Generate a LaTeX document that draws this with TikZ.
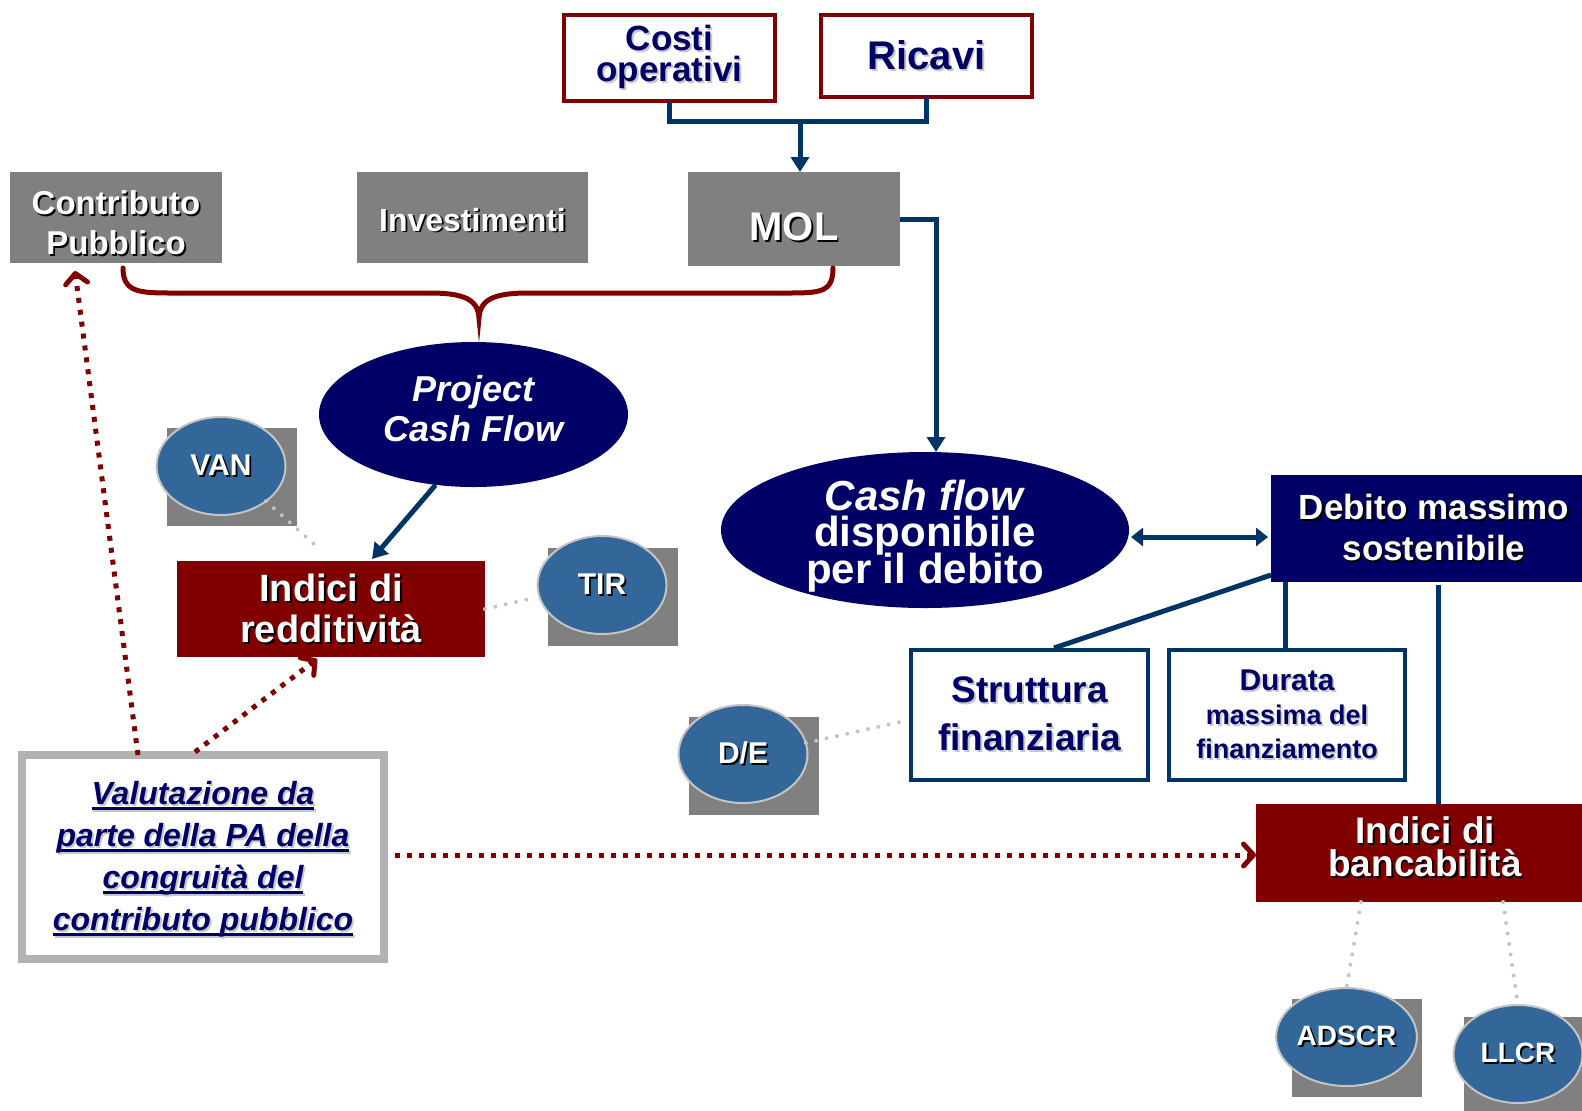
\documentclass[tikz,border=0pt]{standalone}
\usepackage{fontspec}
\setmainfont{Liberation Sans}
\usetikzlibrary{shapes.geometric,arrows.meta,calc}
\definecolor{dred}{RGB}{128,0,0}
\definecolor{navy}{RGB}{0,0,102}
\definecolor{bluec}{RGB}{0,51,102}
\definecolor{gbox}{RGB}{128,128,128}
\definecolor{sblue}{RGB}{51,102,153}
\definecolor{lgray}{RGB}{196,196,196}
\definecolor{vgray}{RGB}{178,178,178}
\newcommand{\fsz}[2]{\fontsize{#1}{#2}\selectfont\lineskiplimit=-100pt\relax}
\newcommand{\txs}[2][black]{\leavevmode\rlap{\kern0.9pt\raisebox{-0.9pt}{\color{#1}#2}}#2}
\newcommand{\txl}[1]{\txs[black!22]{#1}}
\newcommand{\ulin}[1]{\setbox0\hbox{#1}\rlap{\rule[-2.8pt]{\wd0}{1.3pt}}\box0}
\begin{document}
\begin{tikzpicture}[x=0.5pt,y=-0.5pt,
  every node/.style={inner sep=0pt,outer sep=0pt,align=center},
  bline/.style={draw=bluec,line width=2.5pt},
  barrow/.style={bline,-{Triangle[length=7.5pt,width=9pt]}},
  rdot/.style={draw=dred,line width=2.5pt,dash pattern=on 2.5pt off 3.5pt,-{Straight Barb[length=5pt,width=11pt,round]}},
  gdot/.style={draw=lgray,line width=2pt,dash pattern=on 0pt off 5.3pt,line cap=round},
  gshad/.style={rectangle,fill=gbox,minimum width=65pt,minimum height=49pt},
  sell/.style={ellipse,fill=sblue,draw=lgray,line width=1pt,text=white,minimum width=64.5pt,minimum height=49pt,font=\fsz{15}{18}\bfseries},
  graybox/.style={rectangle,fill=gbox,text=white},
  whitebox/.style={rectangle,fill=white,line width=2pt,text=navy},
  bigell/.style={ellipse,fill=navy,text=white}]
\useasboundingbox (0,0) rectangle (1582,1110);

% top boxes
\node[whitebox,draw=dred,minimum width=105.5pt,minimum height=43pt,font=\fsz{17.5}{15.5}\bfseries] (costi) at (669.5,58) {\txl{Costi}\\\txl{operativi}};
\node[whitebox,draw=dred,minimum width=105.5pt,minimum height=41pt,font=\fsz{20}{24}\bfseries] (ricavi) at (926.5,56) {\txl{Ricavi}};
\node[graybox,minimum width=106pt,minimum height=47pt,font=\fsz{20}{24}\bfseries] (mol) at (794,219) {\raisebox{-4.5pt}[\height][\depth]{\txs{MOL}}};
\node[graybox,minimum width=106pt,minimum height=45.5pt,
  label={[font=\fsz{16.5}{20}\bfseries,text=white,yshift=-3pt]center:{\txs{Contributo}\\\txs{Pubblico}}}] (contrib) at (116,217.5) {};
\node[graybox,minimum width=115.5pt,minimum height=45.5pt,font=\fsz{16}{20}\bfseries] (invest) at (472.5,217.5) {\raisebox{-1.5pt}[\height][\depth]{\txs{Investimenti}}};

% left part
\node[bigell,minimum width=154.5pt,minimum height=72.5pt,
  label={[font=\fsz{18}{20}\bfseries\itshape,text=white,yshift=3pt]center:{Project\\Cash Flow}}] (pcf) at (473.5,414.5) {};
\node[graybox,fill=dred,minimum width=154pt,minimum height=48pt,font=\fsz{19}{20.5}\bfseries] (redd) at (331,609) {\txs{Indici di}\\\txs{redditività}};
\node[gshad] (vanS) at (231.5,477) {};
\node[sell] (vanE) at (221,466) {\txs{VAN}};
\node[gshad] (tirS) at (612.5,596.5) {};
\node[sell] (tirE) at (602,585) {\txs{TIR}};

% right part
\node[bigell,minimum width=204pt,minimum height=78pt,
  label={[font=\fsz{21}{18.3}\bfseries,text=white,yshift=-3pt]center:{\textit{Cash flow}\\disponibile\\per il debito}}] (cfd) at (925,530) {};
\node[rectangle,fill=navy,text=white,minimum width=163pt,minimum height=53.5pt,font=\fsz{17.5}{20.5}\bfseries] (debito) at (1434,528.5) {\txs{Debito massimo}\\\txs{sostenibile}};
\node[whitebox,draw=bluec,minimum width=118.5pt,minimum height=65pt,font=\fsz{18.5}{24}\bfseries] (strutt) at (1029.5,715) {\txl{Struttura}\\\txl{finanziaria}};
\node[whitebox,draw=bluec,minimum width=118pt,minimum height=65pt,font=\fsz{13.5}{17}\bfseries] (durata) at (1287,715) {{\fsz{15}{17}\txl{Durata}}\\\txl{massima del}\\\txl{finanziamento}};
\node[gshad] (deS) at (754,766) {};
\node[sell] (deE) at (743,754) {\txs{D/E}};

% bottom
\node[rectangle,fill=white,draw=vgray,line width=4pt,minimum width=181pt,minimum height=102pt,
  label={[text=navy,font=\fsz{16}{21}\bfseries\itshape,yshift=-1.5pt]center:{\txl{\ulin{Valutazione da}}\\\txl{\ulin{parte della PA della}}\\\txl{\ulin{congruità del}}\\\txl{\ulin{contributo pubblico}}}}] (valut) at (203,857) {};
\node[rectangle,fill=dred,minimum width=169pt,minimum height=49pt,
  label={[text=white,font=\fsz{18.5}{16.5}\bfseries,yshift=2.5pt]center:{\txs{Indici di}\\\txs{bancabilità}}}] (banc) at (1425,853) {};
\node[gshad] (adS) at (1357,1048) {};
\node[sell,font=\fsz{14}{16}\bfseries] (adE) at (1346.5,1037) {\txs{ADSCR}};
\node[gshad] (llS) at (1529,1066) {};
\node[sell,font=\fsz{14}{16}\bfseries] (llE) at (1518,1054) {\txs{LLCR}};

% brace
\draw[dred,line width=2.5pt,line cap=round]
  (123,268) .. controls (123,293) and (140,293) .. (175,293) -- (430,293)
  .. controls (465,293) and (478,300) .. (479,318)
  .. controls (480,300) and (493,293) .. (528,293) -- (785,293)
  .. controls (820,293) and (833,293) .. (833,268);

% blue connectors
\coordinate (j1) at (800,121);
\draw[bline] (costi.south) -- (costi.south |- j1) -| (ricavi.south);
\draw[barrow] (j1) -- (j1 |- mol.north);
\coordinate (m1) at (936,219);
\draw[barrow] (mol.east) -- (m1) -- (m1 |- cfd.north);
\draw[barrow] ($(pcf.south)+(-38,-2)$) -- ($(redd.north)+(41,-2)$);
\draw[bline,{Triangle[length=6pt,width=9pt]}-{Triangle[length=6pt,width=9pt]}] ($(cfd.east)+(2,7)$) -- ($(debito.west)+(-3,8.5)$);
\draw[bline] ($(debito.south west)+(0,-7)$) -- ($(strutt.north)+(24.5,-2)$);
\coordinate (d1) at ($(durata.north)+(-2,0)$);
\draw[bline] (d1 |- debito.south) -- (d1);
\coordinate (b1) at ($(banc.north)+(13,0)$);
\coordinate (b0) at (b1 |- debito.south);
\draw[bline] (b0) ++(0,3) -- (b1);

% gray dotted links
\draw[gdot] (vanE.-38) -- ($(redd.north west)+(137,-17)$);
\draw[gdot] (redd.east) -- ($(tirE.west)+(-8,14)$);
\draw[gdot] (deE.10) -- ($(strutt.west)+(-11,7)$);
\draw[gdot] ($(banc.south west)+(105,0)$) -- (adE.north);
\draw[gdot] ($(banc.south west)+(247,0)$) -- (llE.north);

% red dotted arrows
\draw[rdot] ($(valut.north west)+(116,0)$) -- ($(contrib.south west)+(65,8)$);
\draw[rdot] ($(valut.north west)+(173,-3)$) -- ($(redd.south west)+(140,2)$);
\draw[rdot] ($(valut.east)+(11,-2)$) -- ($(banc.west)+(0,2)$);
\end{tikzpicture}
\end{document}
